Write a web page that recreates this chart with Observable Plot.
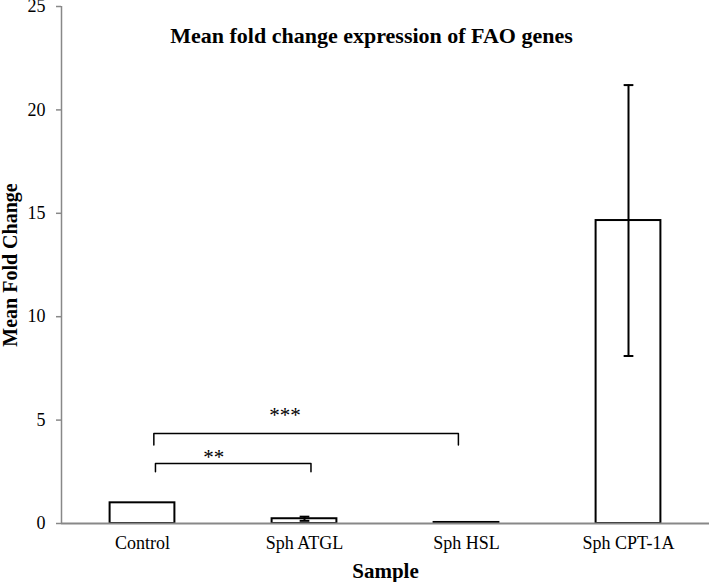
<!DOCTYPE html>
<html>
<head>
<meta charset="utf-8">
<script src="https://cdn.jsdelivr.net/npm/d3@7"></script>
<script src="https://cdn.jsdelivr.net/npm/@observablehq/plot@0.6"></script>
<style>
  html, body { margin: 0; padding: 0; background: #fff; }
  #chart svg { display: block; }
</style>
</head>
<body>
<div id="chart"></div>
<script>
// ---- data ----
const categories = ["Control", "Sph ATGL", "Sph HSL", "Sph CPT-1A"];
const means = [1.0, 0.23, 0.05, 14.65];
const errors = [0, 0.1, 0, 6.55];
const yTicks = [0, 5, 10, 15, 20, 25];

// significance brackets (x in category-index units)
const bracketFrom = [0.08, 0.07];
const bracketTo = [1.04, 1.95];
const bracketLevel = [2.9, 4.35];
const bracketFoot = [2.5, 3.8];
const bracketLabels = ["**", "***"];
const bracketLabelX = [0.44, 0.88];
const bracketLabelY = [3.2, 5.25];

const titleText = "Mean fold change expression of FAO genes";
const yLabel = "Mean Fold Change";
const xLabel = "Sample";

// ---- derived tables ----
const barHalf = 0.2;
const capHalf = 0.03;
const bars = categories.map((c, i) => ({i, c, v: means[i], e: errors[i]}));
const errBars = bars.filter(d => d.e > 0);
const bracketPts = [];
bracketFrom.forEach((f, k) => {
  bracketPts.push({k, x: f, y: bracketFoot[k]});
  bracketPts.push({k, x: f, y: bracketLevel[k]});
  bracketPts.push({k, x: bracketTo[k], y: bracketLevel[k]});
  bracketPts.push({k, x: bracketTo[k], y: bracketFoot[k]});
});
const bracketText = bracketLabels.map((t, k) => ({t, x: bracketLabelX[k], y: bracketLabelY[k]}));

const xDomain = [-0.5, categories.length - 0.5];
const axisColor = "#888";

const chart = Plot.plot({
  width: 709,
  height: 582,
  marginLeft: 61,
  marginRight: 0,
  marginTop: 6,
  marginBottom: 59,
  style: {fontFamily: "'Liberation Serif', 'Times New Roman', serif", fontSize: "18px", color: "#000", background: "#fff"},
  x: {type: "linear", domain: xDomain},
  y: {domain: [0, 25]},
  marks: [
    Plot.axisY({ticks: yTicks, tickSize: 5, tickPadding: 11, stroke: axisColor, strokeWidth: 1.5, fill: "#000", fontSize: 18, label: null}),
    Plot.axisX({ticks: d3.range(categories.length), tickFormat: i => categories[i], tickSize: 0, tickPadding: 13, fill: "#000", fontSize: 18, label: null}),
    Plot.ruleX([xDomain[0]], {y1: 0, y2: 25, stroke: axisColor, strokeWidth: 1.5}),
    Plot.rectY(bars, {x1: d => d.i - barHalf, x2: d => d.i + barHalf, y1: 0, y2: "v", fill: "#fff", stroke: "#000", strokeWidth: 2}),
    Plot.ruleY([0], {stroke: axisColor, strokeWidth: 2}),
    Plot.ruleX(errBars, {x: "i", y1: d => d.v - d.e, y2: d => d.v + d.e, stroke: "#000", strokeWidth: 2}),
    Plot.link(errBars, {x1: d => d.i - capHalf, x2: d => d.i + capHalf, y1: d => d.v + d.e, y2: d => d.v + d.e, stroke: "#000", strokeWidth: 2}),
    Plot.link(errBars, {x1: d => d.i - capHalf, x2: d => d.i + capHalf, y1: d => d.v - d.e, y2: d => d.v - d.e, stroke: "#000", strokeWidth: 2}),
    Plot.line(bracketPts, {x: "x", y: "y", z: "k", stroke: "#000", strokeWidth: 1.5, curve: "linear"}),
    Plot.text(bracketText, {x: "x", y: "y", text: "t", fontSize: 21, fill: "#000"}),
    Plot.text([titleText], {frameAnchor: "top", textAnchor: "middle", lineAnchor: "middle", dx: -14, dy: 29, fontSize: 22, fontWeight: "bold", fill: "#000"}),
    Plot.text([yLabel], {frameAnchor: "left", textAnchor: "middle", lineAnchor: "middle", rotate: -90, dx: -51, fontSize: 20, fontWeight: "bold", fill: "#000"}),
    Plot.text([xLabel], {frameAnchor: "bottom", textAnchor: "middle", lineAnchor: "middle", dy: 48, fontSize: 21, fontWeight: "bold", fill: "#000"})
  ]
});
document.getElementById("chart").appendChild(chart);
</script>
</body>
</html>
